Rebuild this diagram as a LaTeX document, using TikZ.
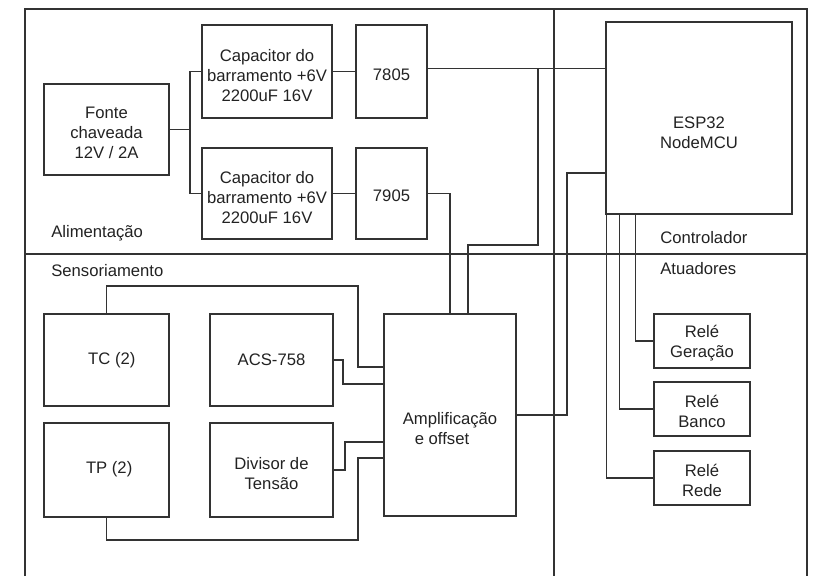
\documentclass[tikz,border=0pt]{standalone}
\usepackage{fontspec}
\setmainfont{Liberation Sans}
\usetikzlibrary{calc}
\definecolor{ln}{HTML}{333333}
\definecolor{tx}{HTML}{222222}
\begin{document}
\begin{tikzpicture}[x=0.75pt,y=-0.75pt,
  every node/.style={font=\fontsize{12.5pt}{15pt}\selectfont, text=tx},
  blk/.style={draw=ln, line width=0.8pt, inner sep=0pt},
  txt/.style={align=center, inner sep=0pt},
  wire/.style={draw=ln, line width=0.8pt},
  lbl/.style={anchor=west, inner sep=0pt}]
\useasboundingbox (0,0) rectangle (820,576);
% frame
\draw[wire] (25,576) -- (25,9) -- (807,9) -- (807,576);
\draw[wire] (554,9) -- (554,576);
\draw[wire] (25,254) -- (807,254);
% section labels
\node[lbl] (lalim) at (51,233) {Alimentação};
\node[lbl] (lsens) at (51,271) {Sensoriamento};
\node[lbl] (lctrl) at (660,238) {Controlador};
\node[lbl] (latua) at (660,269) {Atuadores};
% power blocks
\node[blk, minimum width=93.75pt, minimum height=68.25pt] (fonte) at (106.5,129.5) {};
\node[txt] (fonte-t) at ([yshift=-2.25pt]fonte.center) {Fonte\\chaveada\\12V / 2A};
\node[blk, minimum width=97.5pt, minimum height=69.75pt] (capA) at (267,71.5) {};
\node[txt] (capA-t) at ([yshift=-3pt]capA.center) {Capacitor do\\barramento +6V\\2200uF 16V};
\node[blk, minimum width=97.5pt, minimum height=68.25pt] (capB) at (267,193.5) {};
\node[txt] (capB-t) at ([yshift=-3pt]capB.center) {Capacitor do\\barramento +6V\\2200uF 16V};
\node[blk, minimum width=53.25pt, minimum height=69.75pt] (v7805) at (391.5,71.5) {};
\node[txt] (v7805-t) at ([yshift=-2.25pt]v7805.center) {7805};
\node[blk, minimum width=53.25pt, minimum height=68.25pt] (v7905) at (391.5,193.5) {};
\node[txt] (v7905-t) at ([yshift=-1.5pt]v7905.center) {7905};
% controller
\node[blk, minimum width=139.5pt, minimum height=144pt] (esp) at (699,118) {};
\node[txt] (esp-t) at ([yshift=-11.25pt]esp.center) {ESP32\\NodeMCU};
% sensors
\node[blk, minimum width=93.75pt, minimum height=69pt] (tc) at (106.5,360) {};
\node[txt] (tc-t) at ([xshift=4pt]tc.center) {TC (2)};
\node[blk, minimum width=93.75pt, minimum height=70.5pt] (tp) at (106.5,470) {};
\node[txt] (tp-t) at ([xshift=2pt,yshift=0.75pt]tp.center) {TP (2)};
\node[blk, minimum width=92.25pt, minimum height=69pt] (acs) at (271.5,360) {};
\node[txt] (acs-t) at (acs.center) {ACS-758};
\node[blk, minimum width=92.25pt, minimum height=70.5pt] (div) at (271.5,470) {};
\node[txt] (div-t) at ([yshift=-2.5pt]div.center) {Divisor de\\Tensão};
\node[blk, minimum width=99pt, minimum height=151.5pt] (amp) at (450,415) {};
\node[txt] (amp-t) at ([yshift=-10pt]amp.center) {Amplificação\\e offset\hspace*{12pt}};
% relays
\node[blk, minimum width=72pt, minimum height=40.5pt] (rg) at (702,341) {};
\node[txt] (rg-t) at ([yshift=-1.5pt]rg.center) {Relé\\Geração};
\node[blk, minimum width=72pt, minimum height=40.5pt] (rb) at (702,409) {};
\node[txt] (rb-t) at ([yshift=-1.5pt]rb.center) {Relé\\Banco};
\node[blk, minimum width=72pt, minimum height=40.5pt] (rr) at (702,478) {};
\node[txt] (rr-t) at ([yshift=-1.5pt]rr.center) {Relé\\Rede};
% power wiring
\coordinate (jf) at (190,129.5);
\draw[wire] (fonte.east) -- (jf) |- (capA.west);
\draw[wire] (jf) |- (capB.west);
\draw[wire] (capA.east) -- (v7805.west);
\draw[wire] (capB.east) -- (v7905.west);
\coordinate (j1) at (538,68.5);
\draw[wire] ([yshift=2.25pt]v7805.east) -- (esp.west |- j1);
\draw[wire] (j1) -- (538,245) -| ([xshift=13.5pt]amp.north);
\draw[wire] (v7905.east) -| (amp.north);
% amp to controller
\draw[wire] ([yshift=-41.25pt]esp.west) -- (567,173) |- (amp.east);
% relays wiring
\draw[wire] ([xshift=0.75pt]esp.south west) |- (rr.west);
\draw[wire] ([xshift=10.5pt]esp.south west) |- (rb.west);
\draw[wire] ([xshift=22.5pt]esp.south west) |- (rg.west);
% sensor wiring
\draw[wire] (tc.north) |- (358,286) |- ([yshift=36pt]amp.west);
\draw[wire] (acs.east) -- (343,360) |- ([yshift=23.25pt]amp.west);
\draw[wire] (div.east) -- (345,470) |- ([yshift=-20.25pt]amp.west);
\draw[wire] (tp.south) |- (358,540) |- ([yshift=-32.25pt]amp.west);
\end{tikzpicture}
\end{document}
